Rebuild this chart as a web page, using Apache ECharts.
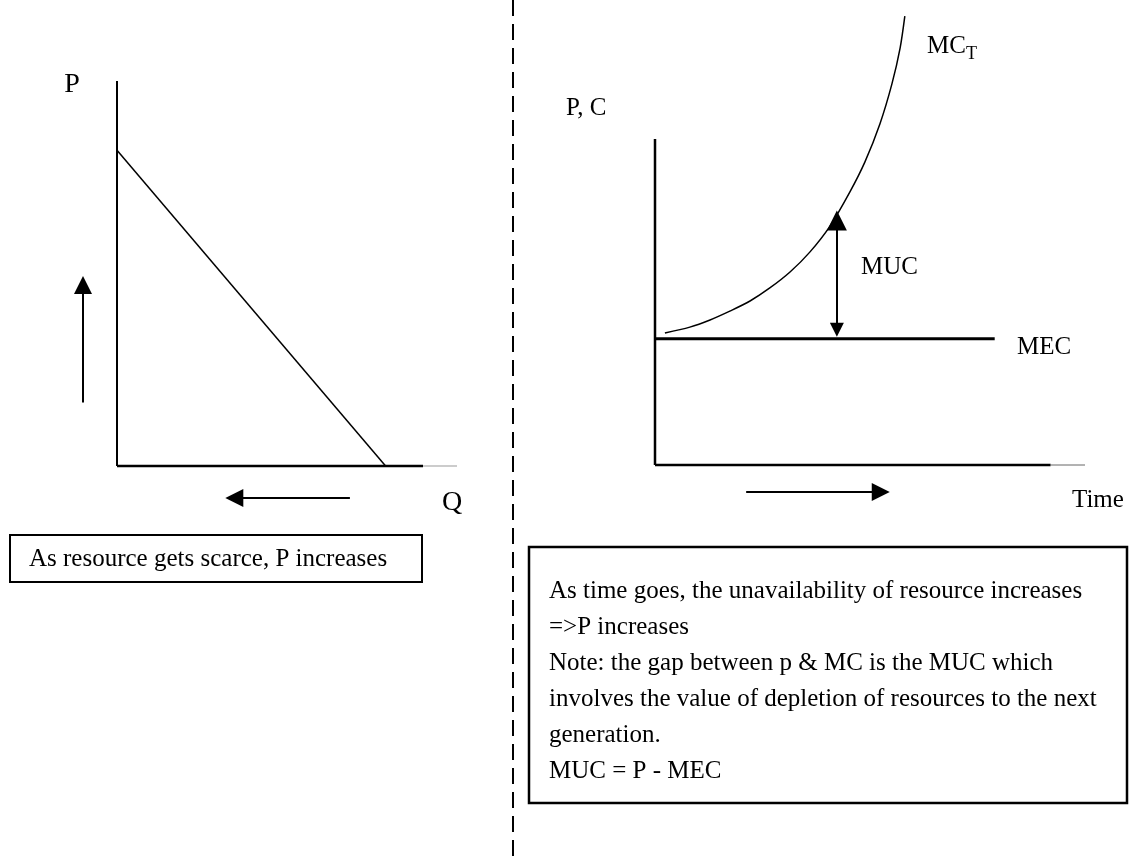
<!DOCTYPE html>
<html>
<head>
<meta charset="utf-8">
<title>Scarcity and marginal user cost</title>
<script src="https://cdn.jsdelivr.net/npm/echarts@6/dist/echarts.min.js"></script>
<style>
  html, body { margin: 0; padding: 0; background: #fff; }
  #chart { width: 1129px; height: 863px; }
</style>
</head>
<body>
<div id="chart"></div>
<script>
// ---- left panel: demand for the resource (Q across, P up) ----
var leftPAxis = [[0, 0], [0, 10]];
var leftQAxis = [[0, 0], [9, 0]];
var leftQAxisTail = [[9, 0], [10, 0]];
var demandLine = [[0, 8.2], [7.9, 0]];
var priceArrow = [[-1, 1.65], [-1, 4.7]];
var quantityArrow = [[6.85, -0.83], [3.45, -0.83]];

// ---- right panel: cost over time ----
var rightPAxis = [[0, 0], [0, 10]];
var timeAxis = [[0, 0], [9.2, 0]];
var timeAxisTail = [[9.2, 0], [10, 0]];
var mecLine = [[0, 3.87], [7.9, 3.87]];
var mctCurve = [
  [0.23, 4.05], [0.81, 4.23], [1.28, 4.45], [1.74, 4.72], [2.21, 5.03],
  [2.67, 5.43], [3.14, 5.92], [3.6, 6.53], [4.07, 7.33], [4.53, 8.37],
  [4.88, 9.29], [5.23, 10.46], [5.51, 11.69], [5.7, 12.79], [5.81, 13.77]
];
var mucArrow = [[4.23, 4.15], [4.23, 7.5]];
var timeArrow = [[2.12, -0.83], [5.25, -0.83]];

var font = "'Liberation Serif', 'Times New Roman', serif";

var chart = echarts.init(document.getElementById('chart'));

function seg(name, data, width, color, gi) {
  return {
    name: name,
    type: 'line',
    xAxisIndex: gi, yAxisIndex: gi,
    data: data,
    symbol: 'none',
    silent: true,
    lineStyle: { color: color || '#000', width: width }
  };
}

function arrow(name, coords, gi, both, size) {
  return {
    name: name,
    type: 'lines',
    coordinateSystem: 'cartesian2d',
    xAxisIndex: gi, yAxisIndex: gi,
    symbol: [both ? 'triangle' : 'none', 'triangle'],
    symbolSize: size,
    silent: true,
    lineStyle: { color: '#000', width: 2, opacity: 1 },
    itemStyle: { color: '#000' },
    data: [{ coords: coords }]
  };
}

function label(text, x, y, size, align) {
  return {
    type: 'text', x: x, y: y,
    style: { text: text, font: size + 'px ' + font, fill: '#000', align: align || 'left', verticalAlign: 'middle' }
  };
}

var option = {
  backgroundColor: '#fff',
  animation: false,
  grid: [
    // 1 unit = 34px across, 38.5px up, origin at (117, 466)
    { left: 49, top: 61.75, width: 442, height: 481.25 },
    // 1 unit = 43px across, 32.6px up, origin at (655, 465)
    { left: 569, top: 8.6, width: 559, height: 521.6 }
  ],
  xAxis: [
    { gridIndex: 0, type: 'value', min: -2, max: 11, show: false },
    { gridIndex: 1, type: 'value', min: -2, max: 11, show: false }
  ],
  yAxis: [
    { gridIndex: 0, type: 'value', min: -2, max: 10.5, show: false },
    { gridIndex: 1, type: 'value', min: -2, max: 14, show: false }
  ],
  series: [
    seg('P axis', leftPAxis, 2, '#000', 0),
    seg('Q axis', leftQAxis, 2.5, '#000', 0),
    seg('Q axis tail', leftQAxisTail, 1, '#999', 0),
    seg('Demand', demandLine, 1.5, '#000', 0),
    arrow('price up', priceArrow, 0, false, [13, 18]),
    arrow('quantity down', quantityArrow, 0, false, [13, 18]),

    seg('P,C axis', rightPAxis, 2.5, '#000', 1),
    seg('Time axis', timeAxis, 2.5, '#000', 1),
    seg('Time axis tail', timeAxisTail, 1, '#666', 1),
    seg('MEC', mecLine, 3, '#000', 1),
    {
      name: 'MCT',
      type: 'line',
      xAxisIndex: 1, yAxisIndex: 1,
      data: mctCurve,
      smooth: 0.3,
      symbol: 'none',
      silent: true,
      lineStyle: { color: '#000', width: 1.5 }
    },
    arrow('MUC', mucArrow, 1, true, [14, 20]),
    arrow('time', timeArrow, 1, false, [14, 18])
  ],
  graphic: [
    // dashed divider
    { type: 'line', shape: { x1: 513, y1: 0, x2: 513, y2: 863 },
      style: { stroke: '#000', lineWidth: 2, lineDash: [16, 8] } },

    label('P', 72, 85, 28, 'center'),
    label('Q', 452, 503, 28, 'center'),

    label('P, C', 566, 108, 25),
    label('MC', 927, 46, 25),
    label('T', 966, 54, 18),
    label('MUC', 861, 267, 25),
    label('MEC', 1017, 347, 25),
    label('Time', 1072, 500, 25),

    // left note
    { type: 'rect', shape: { x: 10, y: 535, width: 412, height: 47 },
      style: { fill: '#fff', stroke: '#000', lineWidth: 2 } },
    label('As resource gets scarce, P increases', 29, 559, 25),

    // right note
    { type: 'rect', shape: { x: 529, y: 547, width: 598, height: 256 },
      style: { fill: '#fff', stroke: '#000', lineWidth: 2.5 } },
    { type: 'text', x: 549, y: 573, style: {
        text: 'As time goes, the unavailability of resource increases\n=>P increases\nNote: the gap between p & MC is the MUC which\ninvolves the value of depletion of resources to the next\ngeneration.\nMUC = P - MEC',
        font: '25px ' + font, fill: '#000', lineHeight: 36, verticalAlign: 'top' } }
  ]
};

chart.setOption(option);
</script>
</body>
</html>
